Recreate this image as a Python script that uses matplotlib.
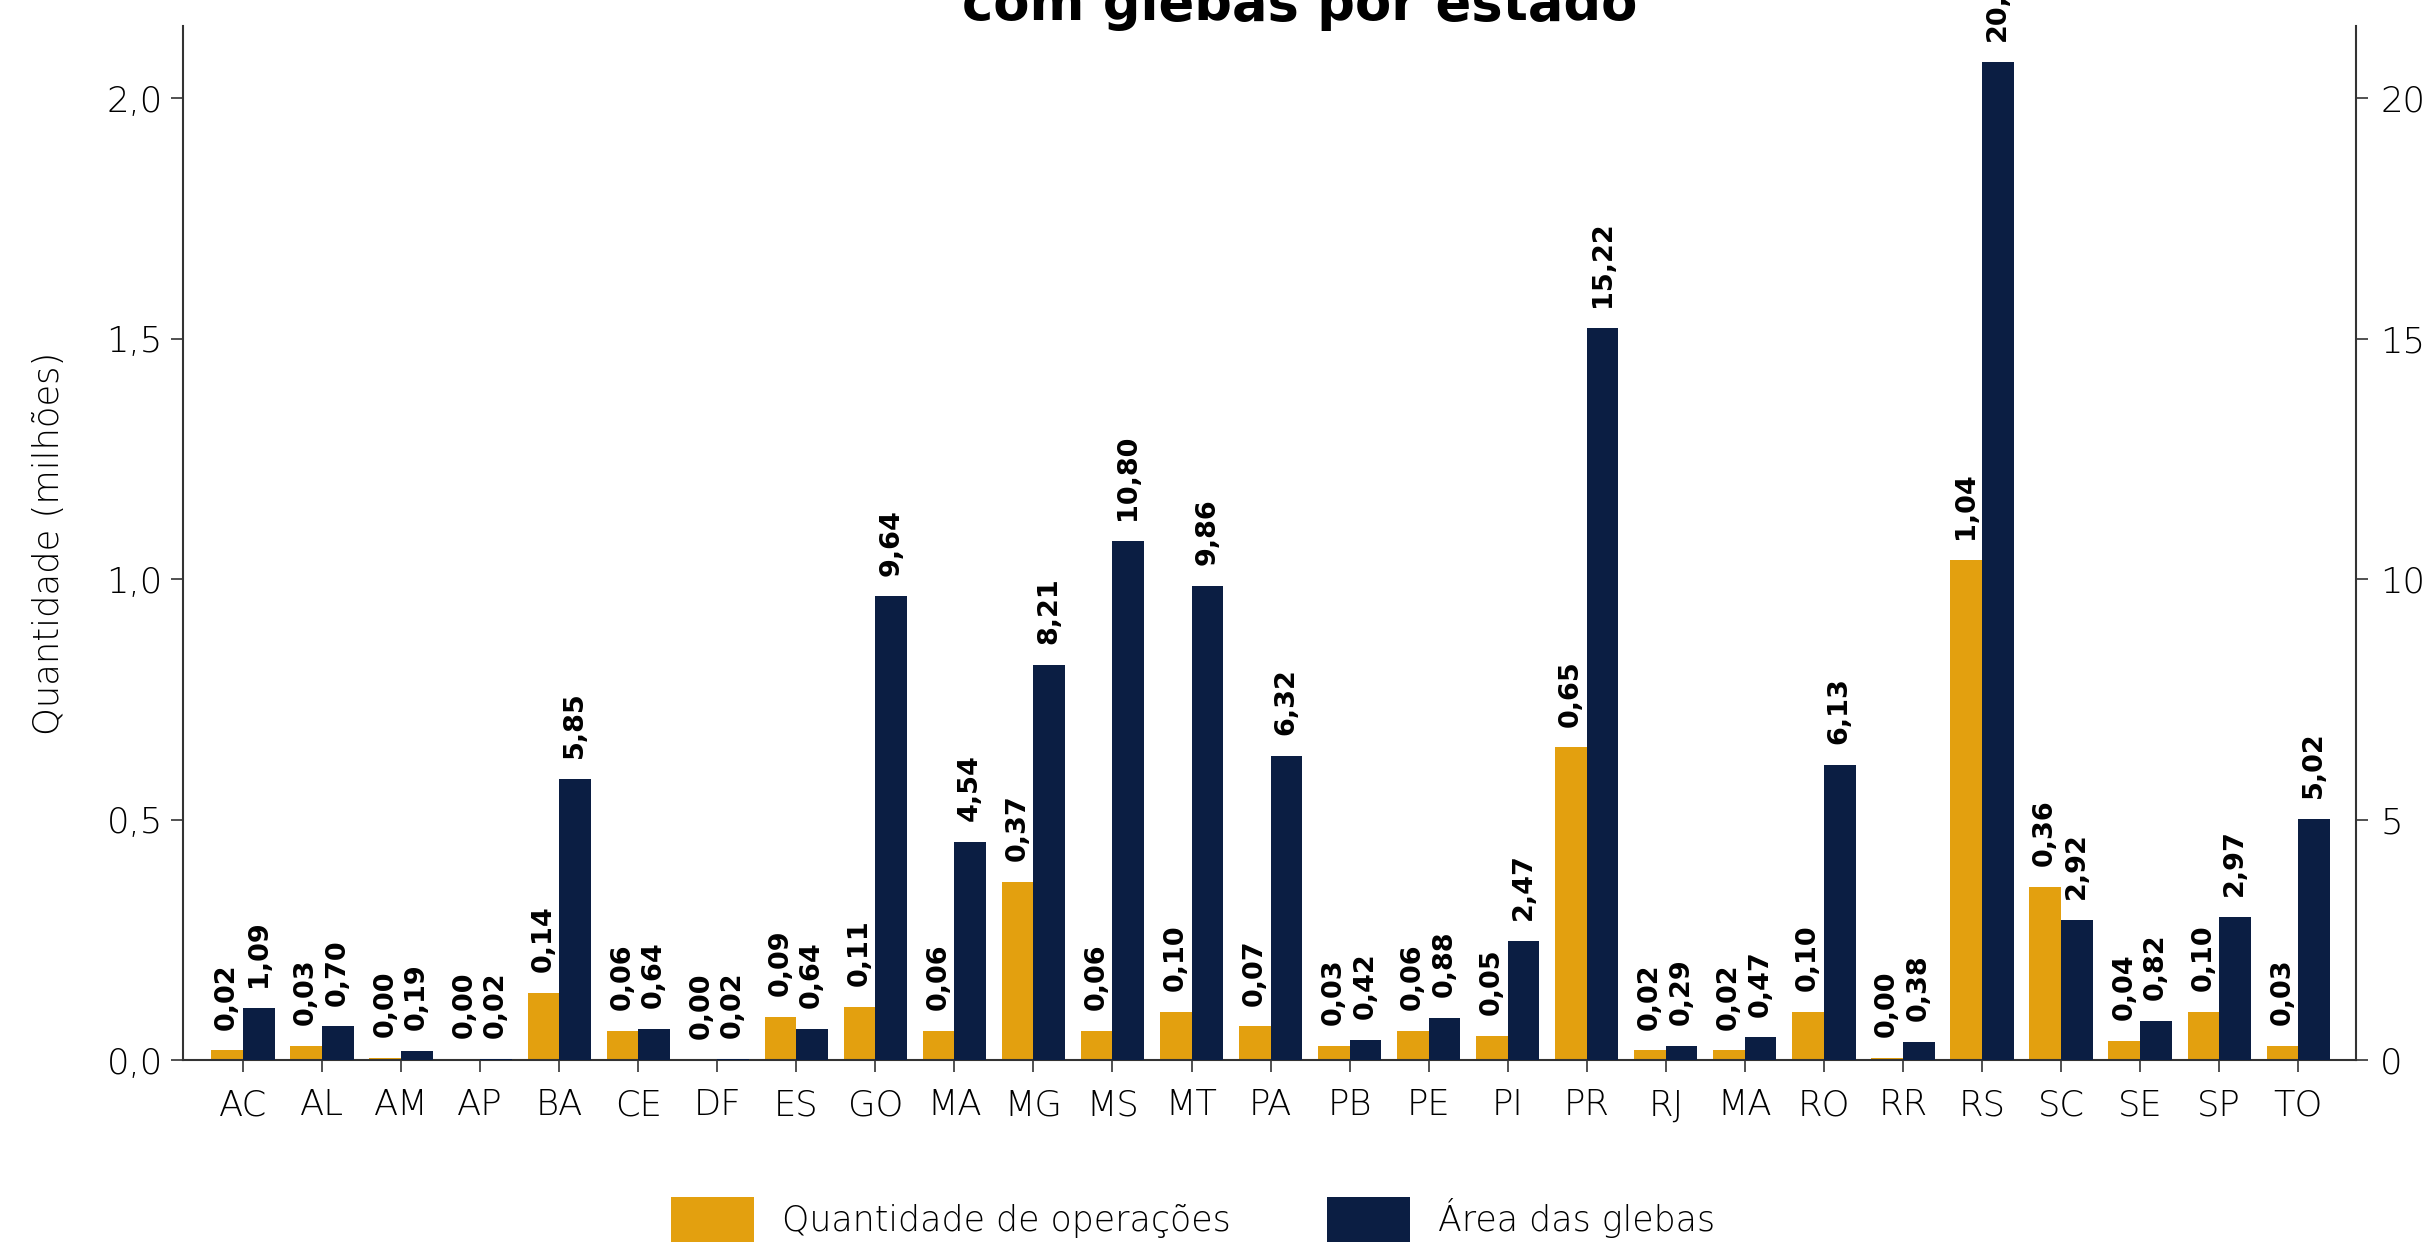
import matplotlib
matplotlib.use("Agg")
import matplotlib.pyplot as plt
from matplotlib.patches import Patch
from matplotlib.ticker import FuncFormatter, MultipleLocator
import numpy as np

states = ["AC", "AL", "AM", "AP", "BA", "CE", "DF", "ES", "GO", "MA", "MG", "MS", "MT", "PA",
          "PB", "PE", "PI", "PR", "RJ", "MA", "RO", "RR", "RS", "SC", "SE", "SP", "TO"]
quantidade = [0.02, 0.03, 0.004, 0.003, 0.14, 0.06, 0.001, 0.09, 0.11, 0.06, 0.37, 0.06, 0.10, 0.07,
              0.03, 0.06, 0.05, 0.65, 0.02, 0.02, 0.10, 0.004, 1.04, 0.36, 0.04, 0.10, 0.03]
area = [1.09, 0.70, 0.19, 0.02, 5.85, 0.64, 0.02, 0.64, 9.64, 4.54, 8.21, 10.80, 9.86, 6.32,
        0.42, 0.88, 2.47, 15.22, 0.29, 0.47, 6.13, 0.38, 20.75, 2.92, 0.82, 2.97, 5.02]

ORANGE = "#E3A00F"
NAVY = "#0B1E43"
AXC = "#333333"
TICK_FONT = {"family": "DejaVu Sans", "size": 25.5}

fig = plt.figure(figsize=(24.29, 12.49), dpi=100)
ax = fig.add_axes([0.0753, 0.1513, 0.8946, 0.8279])
ax2 = ax.twinx()

x = np.arange(len(states))
w = 0.4
b1 = ax.bar(x - w / 2, quantidade, width=w, color=ORANGE, zorder=2)
b2 = ax2.bar(x + w / 2, area, width=w, color=NAVY, zorder=2)

fmt = lambda v: f"{v:.2f}".replace(".", ",")
for bars, axis in ((b1, ax), (b2, ax2)):
    axis.bar_label(bars, labels=[fmt(b.get_height()) for b in bars], padding=15, rotation=90,
                   fontsize=19.5, fontweight="bold", family="DejaVu Sans", color="black")

ax.set_xlim(-0.76, 26.73)
ax.set_ylim(0, 2.15)
ax2.set_ylim(0, 21.5)

ax.yaxis.set_major_locator(MultipleLocator(0.5))
ax.yaxis.set_major_formatter(FuncFormatter(lambda v, p: f"{v:.1f}".replace(".", ",")))
ax2.yaxis.set_major_locator(MultipleLocator(5))
ax2.yaxis.set_major_formatter(FuncFormatter(lambda v, p: f"{v:.0f}"))

ax.set_xticks(x)
ax.set_xticklabels(states)

for s in ("top", "right"):
    ax.spines[s].set_visible(False)
for s in ("top", "left", "bottom"):
    ax2.spines[s].set_visible(False)
for a in (ax, ax2):
    for s in a.spines.values():
        s.set_linewidth(1.5)
        s.set_color(AXC)

ax.tick_params(axis="x", direction="out", length=8.5, width=1.2, color=AXC, pad=12)
ax.tick_params(axis="y", direction="out", length=8.5, width=1.2, color=AXC, pad=6)
ax2.tick_params(axis="y", direction="out", length=8.5, width=1.2, color=AXC, pad=9)
for lab in ax.get_xticklabels() + ax.get_yticklabels() + ax2.get_yticklabels():
    lab.set_fontfamily(TICK_FONT["family"])
    lab.set_fontsize(TICK_FONT["size"])
    lab.set_fontweight("light")
    lab.set_color("black")

ax.set_ylabel("Quantidade (milhões)", fontsize=25.5, family="DejaVu Sans", fontweight="light",
              color="black")
ax.yaxis.set_label_coords(-0.054, 0.5)

fig.text(0.535, 1 - 20 / 1249, "com glebas por estado", ha="center", va="baseline",
         fontsize=38, fontweight="bold", family="DejaVu Sans")

for handle_color, label, xpos in ((ORANGE, "Quantidade de operações", 671 / 2429),
                                  (NAVY, "Área das glebas", 1327 / 2429)):
    fig.legend(handles=[Patch(facecolor=handle_color, edgecolor="none")], labels=[label],
               loc="upper left", bbox_to_anchor=(xpos, 1 - 1197 / 1249), handlelength=2.4,
               handleheight=1.6, handletextpad=0.8, borderpad=0, borderaxespad=0,
               frameon=False, prop={"family": "DejaVu Sans", "size": 25, "weight": "light"})

fig.savefig("out.png", dpi=100)
